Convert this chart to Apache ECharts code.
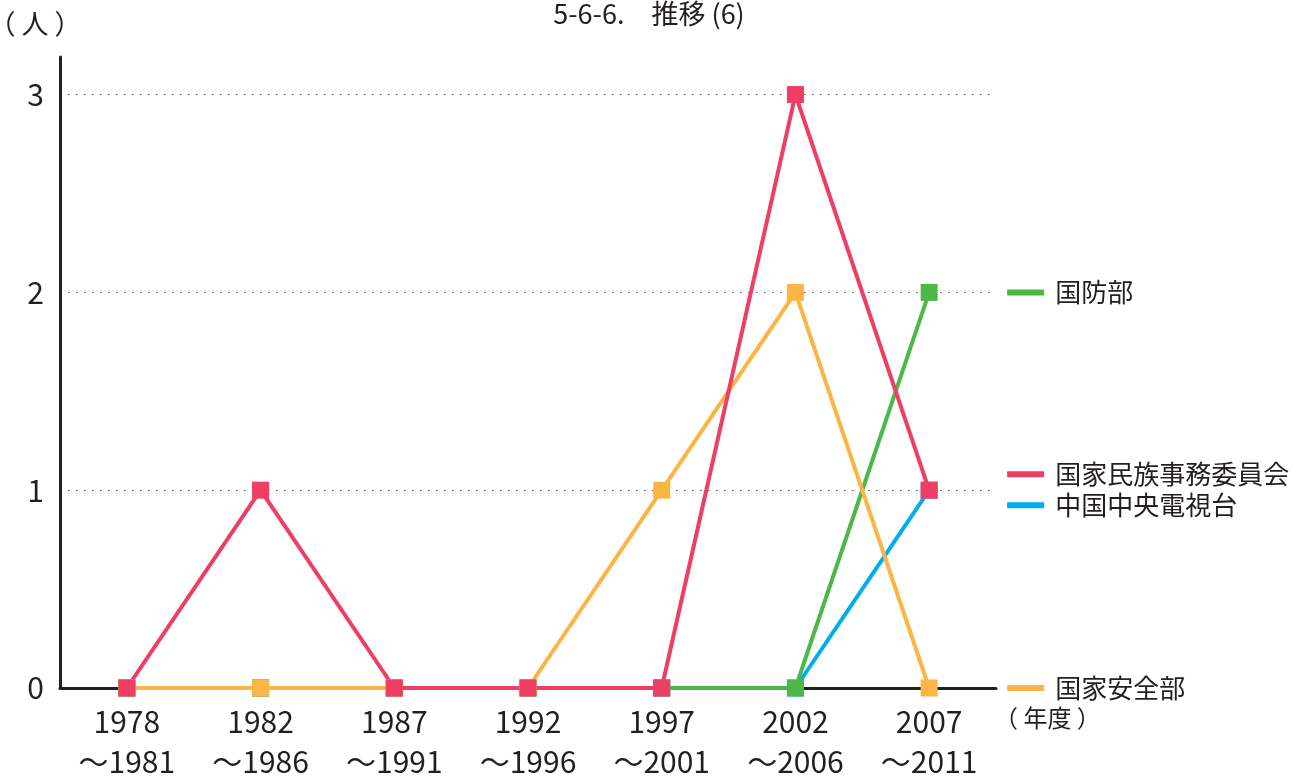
<!DOCTYPE html>
<html><head><meta charset="utf-8">
<script src="https://cdn.jsdelivr.net/npm/echarts@6/dist/echarts.min.js"></script>
<style>html,body{margin:0;padding:0;background:#fff}#c{width:1298px;height:776px}</style>
</head><body><div id="c"></div>
<script>
const categories = ['1978\n～1981','1982\n～1986','1987\n～1991','1992\n～1996','1997\n～2001','2002\n～2006','2007\n～2011'];
const yTicks = [0,1,2,3];
const cctv = [0,0,0,0,0,0,1];        // 中国中央電視台
const defense = [0,0,0,0,0,0,2];     // 国防部
const security = [0,0,0,0,1,2,0];    // 国家安全部
const ethnic = [0,1,0,0,0,3,1];      // 国家民族事務委員会

const FONT = '"Noto Sans CJK JP", "Noto Sans", sans-serif';
const TXT = '#231f20';
function mk(name, data, color, offY) {
  return {
    name, type: 'line', data, color,
    symbol: 'rect', symbolSize: 17,
    lineStyle: {width: 4, color},
    itemStyle: {color},
    endLabel: {
      show: true, distance: 78, offset: [0, offY],
      formatter: '{b|}{t|' + name + '}',
      rich: {
        b: {width: 37, height: 6, backgroundColor: color},
        t: {fontSize: 26, color: TXT, fontFamily: FONT, padding: [0,0,0,11]}
      }
    }
  };
}
const chart = echarts.init(document.getElementById('c'));
chart.setOption({
  animation: false,
  textStyle: {fontFamily: FONT},
  title: {text: '5-6-6.　推移 (6)', left: 'center', top: -5,
    textStyle: {fontSize: 27, fontWeight: 'normal', color: TXT, fontFamily: FONT}},
  grid: {left: 60, right: 302, top: 57, bottom: 88, outerBoundsMode: 'none', containLabel: false},
  graphic: [{type: 'text', left: 994, top: 706,
    style: {text: '（ 年度 ）', fontSize: 24, fill: TXT, fontFamily: FONT}}],
  xAxis: {
    type: 'category', data: categories, boundaryGap: true,
    axisLine: {lineStyle: {color: TXT, width: 3}},
    axisTick: {inside: true, alignWithLabel: true, length: 16, lineStyle: {color: '#333', width: 1.2}},
    axisLabel: {fontSize: 30, color: TXT, lineHeight: 40, margin: 14}
  },
  yAxis: {
    type: 'value', min: yTicks[0], max: 3.19, interval: 1,
    name: '（ 人 ）', nameLocation: 'end', nameGap: 20,
    nameTextStyle: {fontSize: 27, color: TXT, align: 'center', padding: [0, 50, 0, 0]},
    axisLine: {show: true, lineStyle: {color: TXT, width: 3}},
    axisTick: {show: false},
    axisLabel: {fontSize: 30, color: TXT, margin: 16, showMaxLabel: false},
    splitLine: {show: true, lineStyle: {type: [1.5, 6.5], width: 1.2,
      color: ['rgba(0,0,0,0)', '#555', '#555', '#555', 'rgba(0,0,0,0)']}}
  },
  series: [
    mk('中国中央電視台', cctv, '#00AEEF', 15),
    mk('国防部', defense, '#4DB848', 0),
    mk('国家安全部', security, '#FBB545', 0),
    mk('国家民族事務委員会', ethnic, '#EF3D63', -16)
  ]
});
</script></body></html>
